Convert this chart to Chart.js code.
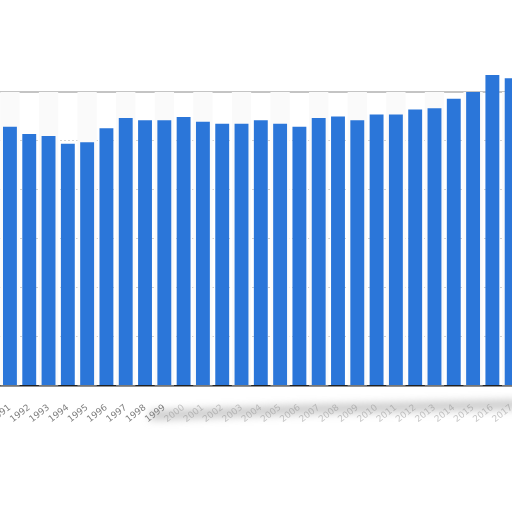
<!DOCTYPE html>
<html>
<head>
<meta charset="utf-8">
<script src="https://cdn.jsdelivr.net/npm/chart.js@4"></script>
<style>
  html, body { margin: 0; padding: 0; background: #fff; overflow: hidden; }
  #wrap { position: absolute; left: -17px; top: 0; width: 544px; height: 512px; }
</style>
</head>
<body>
<div id="wrap"><canvas id="chart"></canvas></div>
<script>
const years = ["1991","1992","1993","1994","1995","1996","1997","1998","1999","2000",
  "2001","2002","2003","2004","2005","2006","2007","2008","2009","2010",
  "2011","2012","2013","2014","2015","2016","2017"];
const values = [52.9, 51.4, 51.0, 49.4, 49.7, 52.6, 54.7, 54.2, 54.2, 54.9,
  53.9, 53.5, 53.5, 54.2, 53.5, 52.9, 54.7, 55.0, 54.2, 55.4,
  55.4, 56.4, 56.7, 58.6, 60.0, 63.5, 62.8];
const yMax = 60;

// light alternating column bands behind the bars
const stripes = {
  id: "stripes",
  beforeDatasetsDraw(chart) {
    const { ctx, chartArea, scales } = chart;
    const w = scales.x.width / years.length;
    ctx.save();
    ctx.fillStyle = "#fafafa";
    years.forEach((y, i) => {
      if (i % 2) return;
      const cx = scales.x.getPixelForValue(i);
      ctx.fillRect(cx - w / 2, chartArea.top, w, chartArea.bottom - chartArea.top);
    });
    ctx.restore();
  }
};

// soft grey edge below the labels, like a torn page
const tornEdge = {
  id: "tornEdge",
  afterDraw(chart) {
    const { ctx, chartArea } = chart;
    ctx.save();
    ctx.filter = "blur(4px)";
    ctx.strokeStyle = "rgba(140,140,140,0.55)";
    ctx.lineWidth = 8;
    ctx.beginPath();
    ctx.moveTo(167, chartArea.bottom + 30);
    ctx.lineTo(317, chartArea.bottom + 24);
    ctx.lineTo(535, chartArea.bottom + 19);
    ctx.stroke();
    ctx.restore();
  }
};

new Chart(document.getElementById("chart"), {
  type: "bar",
  data: {
    labels: years,
    datasets: [{
      data: values,
      backgroundColor: "#2b76d9",
      borderWidth: 0,
      barPercentage: 0.72,
      categoryPercentage: 1,
      clip: false
    }]
  },
  options: {
    responsive: true,
    maintainAspectRatio: false,
    animation: false,
    layout: { padding: { top: 92, left: 0, right: 0, bottom: 78 } },
    plugins: { legend: { display: false }, tooltip: { enabled: false } },
    scales: {
      x: {
        grid: { display: false },
        border: { color: "#222", width: 1.5 },
        ticks: {
          color: c => c.index < 9 ? "#808080" : "#c8c8c8",
          font: { family: "DejaVu Sans", size: 9 },
          maxRotation: 38, minRotation: 38,
          autoSkip: false,
          padding: 9
        }
      },
      y: {
        min: 0, max: yMax,
        ticks: { display: false, stepSize: 10 },
        grid: {
          drawTicks: false,
          color: c => c.tick && c.tick.value === yMax ? "#c4c4c4" : "#d2d2d2",
          lineWidth: c => c.tick && c.tick.value === yMax ? 2 : 1
        },
        border: { display: false, dash: c => c.tick && c.tick.value === yMax ? [] : [2, 2] }
      }
    }
  },
  plugins: [stripes, tornEdge]
});
</script>
</body>
</html>
